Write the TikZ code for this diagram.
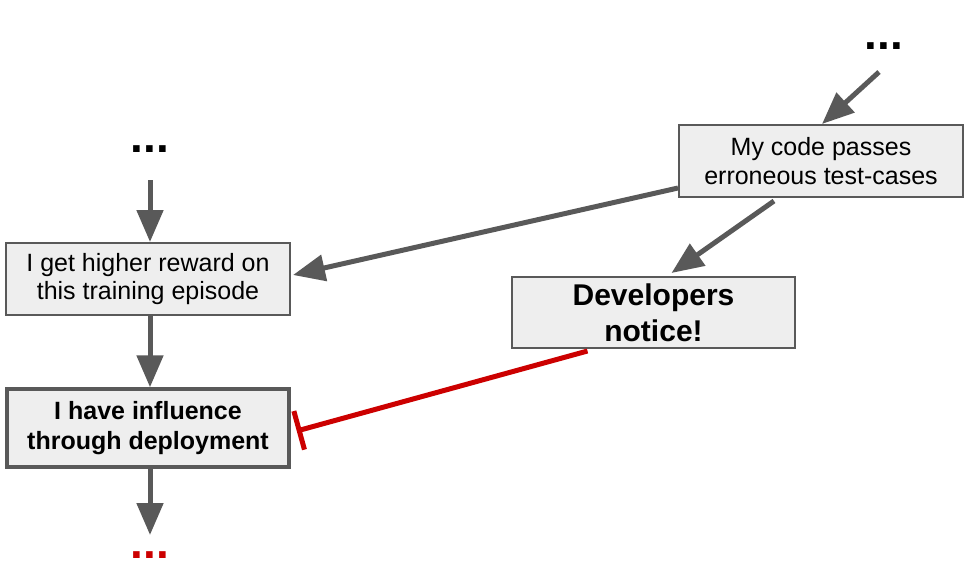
\documentclass[tikz,border=0pt]{standalone}
\usepackage{fontspec}
\setmainfont{Liberation Sans}
\usetikzlibrary{arrows.meta,calc}
\definecolor{dgray}{HTML}{595959}
\definecolor{boxfill}{HTML}{EEEEEE}
\definecolor{dred}{HTML}{CC0000}
\begin{document}
\begin{tikzpicture}[x=1pt,y=-1pt,
  box/.style={draw=dgray,fill=boxfill,line width=2pt,inner sep=0pt,align=center,
    font=\fontsize{25}{28.5}\selectfont},
  arr/.style={draw=dgray,line width=5pt,-{Triangle[length=32pt,width=26pt]}},
  dotsstyle/.style={inner sep=0pt,font=\fontsize{46}{46}\selectfont\bfseries}]
\useasboundingbox (0,0) rectangle (978,584);
\node[box,minimum width=284pt,minimum height=72pt] (A) at (148,279) {I get higher reward on\\this training episode};
\node[box,line width=3.5pt,minimum width=282pt,minimum height=78pt,font=\fontsize{25}{29.5}\selectfont\bfseries] (B) at (148,428) {I have influence\\through deployment};
\node[box,minimum width=284pt,minimum height=72pt] (C) at (821,161) {My code passes\\erroneous test-cases};
\node[box,minimum width=283pt,minimum height=71pt,font=\fontsize{30}{36}\selectfont\bfseries] (D) at (653.5,312.5) {Developers\\notice!};
\node[dotsstyle] (dots1) at (150,149) {...};
\node[dotsstyle] (dots2) at (884,46) {...};
\node[dotsstyle,text=dred] (dots3) at (150,555) {...};
\draw[arr] (150,180) -- (dots1 |- A.north);
\draw[arr] (A.south -| dots1) -- (B.north -| dots1);
\draw[arr] (B.south -| dots1) -- (150,535);
\draw[arr] ($(dots2)+(-5,26)$) -- ($(C.north)+(1,0)$);
\draw[arr] (C.west |- 0,188) -- ($(A.east)+(2,-4)$);
\draw[arr] ($(C.south)+(-47,3)$) -- ($(D.north)+(18,-3)$);
\draw[draw=dred,line width=5pt,-{Bar[width=40pt,line width=5pt]}] ($(D.south)+(-66,2)$) -- ($(B.east)+(6,3)$);
\end{tikzpicture}
\end{document}
